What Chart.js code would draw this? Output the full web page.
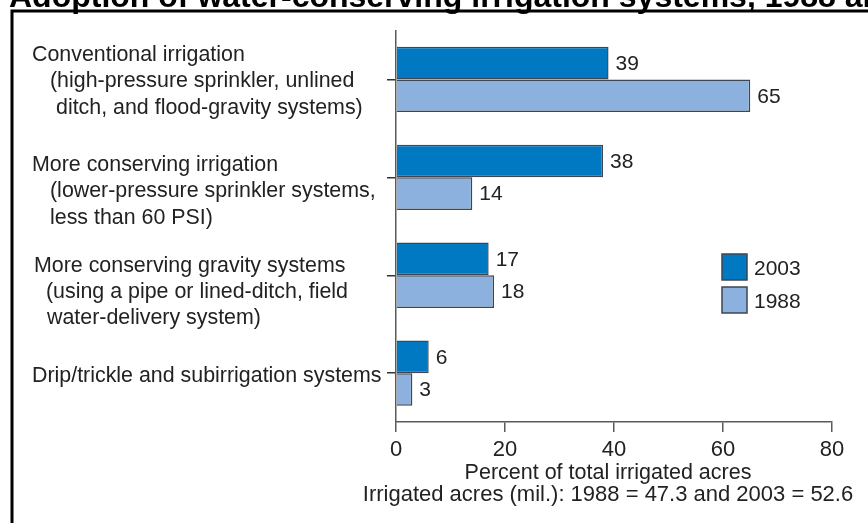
<!DOCTYPE html>
<html>
<head>
<meta charset="utf-8">
<script src="https://cdn.jsdelivr.net/npm/chart.js@4"></script>
<style>
  html, body { margin: 0; padding: 0; background: #fff; }
  canvas { display: block; }
</style>
</head>
<body>
<canvas id="chart" width="868" height="523"></canvas>
<script>
// ---- data ----
const chartTitle = 'Adoption of water-conserving irrigation systems, 1988 and 2003';
const categories = [
  ['Conventional irrigation', '(high-pressure sprinkler, unlined', 'ditch, and flood-gravity systems)'],
  ['More conserving irrigation', '(lower-pressure sprinkler systems,', 'less than 60 PSI)'],
  ['More conserving gravity systems', '(using a pipe or lined-ditch, field', 'water-delivery system)'],
  ['Drip/trickle and subirrigation systems']
];
const seriesLabels = ['2003', '1988'];
const values2003 = [39, 38, 17, 6];
const values1988 = [65, 14, 18, 3];
const xTicks = [0, 20, 40, 60, 80];
const axisTitle = ['Percent of total irrigated acres', 'Irrigated acres (mil.): 1988 = 47.3 and 2003 = 52.6'];

// ---- styling / layout ----
const FONT = "'Liberation Sans', Arial, Helvetica, sans-serif";
const INK = '#222';
const DARK_BLUE = '#0079c2';
const LIGHT_BLUE = '#8db1de';
const BAR_EDGE = '#3d4652';
const AXIS_GREY = '#5a5a5a';

// left offset of each text line, and vertical nudge of each label block
const labelIndent = [[32, 50, 56], [32, 50, 50], [34, 46, 47], [32]];
const labelShift = [2, 14, 17, 3];
const labelLineHeight = 26.3;

// axis title: font size and centre offset (below the x axis) for each line
const axisTitleSize = [21.5, 22];
const axisTitleOffset = [51, 73];

const frameAndTitle = {
  id: 'frameAndTitle',
  afterDraw(chart) {
    const ctx = chart.ctx;
    ctx.save();
    ctx.fillStyle = '#000';
    ctx.font = 'bold 32px ' + FONT;
    ctx.textBaseline = 'alphabetic';
    ctx.textAlign = 'left';
    ctx.fillText(chartTitle, 9, 7);
    ctx.strokeStyle = '#000';
    ctx.lineWidth = 3;
    ctx.beginPath();
    ctx.moveTo(12, chart.height + 5);
    ctx.lineTo(12, 11);
    ctx.lineTo(chart.width + 5, 11);
    ctx.stroke();
    ctx.restore();
  }
};

const categoryLabels = {
  id: 'categoryLabels',
  afterDraw(chart) {
    const ctx = chart.ctx;
    const yScale = chart.scales.y;
    ctx.save();
    ctx.fillStyle = INK;
    ctx.font = '21.4px ' + FONT;
    ctx.textBaseline = 'middle';
    ctx.textAlign = 'left';
    categories.forEach((lines, i) => {
      const center = yScale.getPixelForValue(i) + labelShift[i];
      const top = center - (lines.length - 1) * labelLineHeight / 2;
      lines.forEach((line, j) => {
        ctx.fillText(line, labelIndent[i][j], top + j * labelLineHeight);
      });
    });
    ctx.restore();
  }
};

const xAxisTitle = {
  id: 'xAxisTitle',
  afterDraw(chart) {
    const ctx = chart.ctx;
    const area = chart.chartArea;
    const cx = (area.left + area.right) / 2 - 6;
    ctx.save();
    ctx.fillStyle = INK;
    ctx.textBaseline = 'middle';
    ctx.textAlign = 'center';
    axisTitle.forEach((line, i) => {
      ctx.font = axisTitleSize[i] + 'px ' + FONT;
      ctx.fillText(line, cx, area.bottom + axisTitleOffset[i]);
    });
    ctx.restore();
  }
};

const valueLabels = {
  id: 'valueLabels',
  afterDatasetsDraw(chart) {
    const ctx = chart.ctx;
    ctx.save();
    ctx.fillStyle = INK;
    ctx.font = '21px ' + FONT;
    ctx.textBaseline = 'middle';
    ctx.textAlign = 'left';
    chart.data.datasets.forEach((ds, di) => {
      const meta = chart.getDatasetMeta(di);
      meta.data.forEach((bar, i) => {
        ctx.fillText(String(ds.data[i]), bar.x + 7, bar.y + 1);
      });
    });
    ctx.restore();
  }
};

const boxLegend = {
  id: 'boxLegend',
  afterDraw(chart) {
    const ctx = chart.ctx;
    const x = 722, y = 254, w = 25, h = 26, step = 33;
    ctx.save();
    ctx.font = '21px ' + FONT;
    ctx.textBaseline = 'middle';
    ctx.textAlign = 'left';
    chart.data.datasets.forEach((ds, i) => {
      const top = y + i * step;
      ctx.fillStyle = ds.backgroundColor;
      ctx.fillRect(x, top, w, h);
      ctx.strokeStyle = BAR_EDGE;
      ctx.lineWidth = 1.5;
      ctx.strokeRect(x, top, w, h);
      ctx.fillStyle = INK;
      ctx.fillText(ds.label, x + w + 7, top + h / 2 + 2);
    });
    ctx.restore();
  }
};

new Chart(document.getElementById('chart'), {
  type: 'bar',
  data: {
    labels: categories.map(l => l.join(' ')),
    datasets: [
      {
        label: seriesLabels[0],
        data: values2003,
        backgroundColor: DARK_BLUE,
        borderColor: BAR_EDGE,
        borderWidth: 1.5
      },
      {
        label: seriesLabels[1],
        data: values1988,
        backgroundColor: LIGHT_BLUE,
        borderColor: BAR_EDGE,
        borderWidth: 1.5
      }
    ]
  },
  options: {
    indexAxis: 'y',
    responsive: false,
    devicePixelRatio: 1,
    animation: false,
    categoryPercentage: 0.667,
    barPercentage: 1.0,
    layout: { padding: { left: 0, right: 36, top: 30.5, bottom: 54.5 } },
    plugins: {
      legend: { display: false },
      tooltip: { enabled: false },
      title: { display: false }
    },
    scales: {
      x: {
        type: 'linear',
        min: 0,
        max: 80,
        afterBuildTicks(scale) {
          scale.ticks = xTicks.map(v => ({ value: v }));
        },
        grid: {
          drawOnChartArea: false,
          drawTicks: true,
          tickLength: 10,
          color: AXIS_GREY,
          lineWidth: 1.5
        },
        border: { display: true, color: AXIS_GREY, width: 1.5 },
        ticks: {
          padding: 5,
          color: INK,
          font: { family: FONT, size: 22 }
        },
        title: { display: false }
      },
      y: {
        type: 'category',
        afterFit(scale) { scale.width = 396; },
        grid: {
          offset: false,
          drawOnChartArea: false,
          drawTicks: true,
          tickLength: 9,
          color: '#333',
          lineWidth: 1.5
        },
        border: { display: true, color: AXIS_GREY, width: 1.5 },
        ticks: { display: false }
      }
    }
  },
  plugins: [frameAndTitle, categoryLabels, xAxisTitle, valueLabels, boxLegend]
});
</script>
</body>
</html>
